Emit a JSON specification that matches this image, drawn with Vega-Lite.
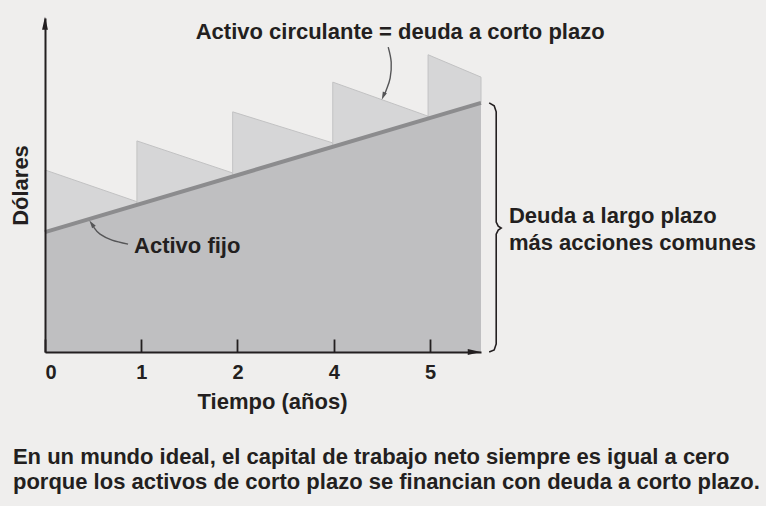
{
  "$schema": "https://vega.github.io/schema/vega-lite/v6.json",
  "width": 436,
  "height": 334,
  "autosize": {"type": "none"},
  "padding": {"left": 45, "top": 18, "right": 285, "bottom": 154},
  "background": "#efeeed",
  "config": {
    "view": {"stroke": null},
    "font": "Liberation Sans",
    "text": {"font": "Liberation Sans", "fontWeight": "bold", "fontSize": 22, "color": "#231f20"}
  },
  "datasets": {
    "teeth": [
      {"tooth": 1, "t": 0, "v": 54.5, "v2": 35.9},
      {"tooth": 1, "t": 0.955, "v": 45.0, "v2": 44.06},
      {"tooth": 2, "t": 0.955, "v": 63.2, "v2": 44.06},
      {"tooth": 2, "t": 1.95, "v": 53.6, "v2": 52.55},
      {"tooth": 3, "t": 1.95, "v": 71.9, "v2": 52.55},
      {"tooth": 3, "t": 2.99, "v": 62.6, "v2": 61.43},
      {"tooth": 4, "t": 2.99, "v": 80.8, "v2": 61.43},
      {"tooth": 4, "t": 3.98, "v": 70.6, "v2": 69.89},
      {"tooth": 5, "t": 3.98, "v": 89.0, "v2": 69.89},
      {"tooth": 5, "t": 4.53, "v": 82.3, "v2": 74.6}
    ],
    "fijo": [
      {"t": 0, "v": 35.9},
      {"t": 4.53, "v": 74.6}
    ],
    "curvas": [
      {"curva": "circulante", "i": 0, "t": 3.566, "v": 91.3},
      {"curva": "circulante", "i": 1, "t": 3.597, "v": 86.8},
      {"curva": "circulante", "i": 2, "t": 3.586, "v": 82.0},
      {"curva": "circulante", "i": 3, "t": 3.545, "v": 78.4},
      {"curva": "circulante", "i": 4, "t": 3.52, "v": 76.8},
      {"curva": "fijo", "i": 0, "t": 0.863, "v": 32.3},
      {"curva": "fijo", "i": 1, "t": 0.696, "v": 33.5},
      {"curva": "fijo", "i": 2, "t": 0.572, "v": 35.3},
      {"curva": "fijo", "i": 3, "t": 0.505, "v": 37.4}
    ],
    "llave": [
      {"i": 0, "t": 4.615, "v": 74.6},
      {"i": 1, "t": 4.667, "v": 73.7},
      {"i": 2, "t": 4.688, "v": 71.9},
      {"i": 3, "t": 4.688, "v": 38.9},
      {"i": 4, "t": 4.709, "v": 37.7},
      {"i": 5, "t": 4.74, "v": 37.1},
      {"i": 6, "t": 4.709, "v": 36.5},
      {"i": 7, "t": 4.688, "v": 35.3},
      {"i": 8, "t": 4.688, "v": 2.4},
      {"i": 9, "t": 4.667, "v": 0.6},
      {"i": 10, "t": 4.615, "v": 0}
    ],
    "textos": [
      {"texto": "Activo fijo", "t": 0.925, "v": 31.7},
      {"texto": "Deuda a largo plazo", "t": 4.82, "v": 40.7},
      {"texto": "más acciones comunes", "t": 4.82, "v": 32.6},
      {"texto": "En un mundo ideal, el capital de trabajo neto siempre es igual a cero", "t": -0.333, "v": -31.3},
      {"texto": "porque los activos de corto plazo se financian con deuda a corto plazo.", "t": -0.333, "v": -39.0}
    ]
  },
  "encoding": {
    "x": {
      "field": "t", "type": "quantitative",
      "scale": {"domain": [0, 4.53], "nice": false, "zero": false},
      "axis": {
        "title": "Tiempo (años)", "titleFontSize": 22, "titleFontWeight": "bold", "titleColor": "#231f20",
        "titleFont": "Liberation Sans", "titlePadding": 9, "titleX": 227,
        "values": [0, 1, 2, 3, 4],
        "labelExpr": "['0','1','2','4','5'][datum.value]",
        "labelFontSize": 20, "labelFontWeight": "bold", "labelColor": "#231f20", "labelFont": "Liberation Sans",
        "labelPadding": 23, "ticks": true, "tickSize": -13, "tickWidth": 1.8, "tickColor": "#231f20", "grid": false,
        "domainColor": "#231f20", "domainWidth": 2, "zindex": 1
      }
    },
    "y": {
      "field": "v", "type": "quantitative",
      "scale": {"domain": [0, 100], "nice": false, "zero": false},
      "axis": {
        "title": "Dólares", "titleFontSize": 22, "titleFontWeight": "bold", "titleColor": "#231f20",
        "titleFont": "Liberation Sans", "titlePadding": 13,
        "labels": false, "ticks": false, "grid": false,
        "domainColor": "#231f20", "domainWidth": 2, "zindex": 1
      }
    }
  },
  "layer": [
    {
      "data": {"name": "teeth"},
      "mark": {"type": "area", "color": "#d6d6d7", "stroke": "#c2c2c3", "strokeWidth": 1},
      "encoding": {"y2": {"field": "v2"}, "detail": {"field": "tooth", "type": "nominal"}}
    },
    {
      "data": {"name": "fijo"},
      "mark": {"type": "area", "color": "#bfbfc1"}
    },
    {
      "data": {"name": "fijo"},
      "mark": {"type": "line", "color": "#8c8c8e", "strokeWidth": 4}
    },
    {
      "data": {"values": [{"t": 0, "v": 98.4}]},
      "mark": {"type": "point", "shape": "M0,-1L0.45,1L-0.45,1Z", "size": 169, "filled": true, "color": "#231f20", "opacity": 1}
    },
    {
      "data": {"values": [{"t": 4.46, "v": 0}]},
      "mark": {"type": "point", "shape": "M1,0L-1,0.45L-1,-0.45Z", "size": 169, "filled": true, "color": "#231f20", "opacity": 1}
    },
    {
      "data": {"name": "curvas"},
      "mark": {"type": "line", "color": "#555557", "strokeWidth": 1.4, "interpolate": "cardinal"},
      "encoding": {"detail": {"field": "curva", "type": "nominal"}, "order": {"field": "i", "type": "quantitative"}}
    },
    {
      "data": {"values": [{"t": 3.515, "v": 76.6}]},
      "mark": {"type": "point", "shape": "M0,1L0.55,-1L-0.55,-1Z", "size": 64, "filled": true, "color": "#555557", "opacity": 1, "angle": 23}
    },
    {
      "data": {"values": [{"t": 0.485, "v": 38.4}]},
      "mark": {"type": "point", "shape": "M0,-1L0.55,1L-0.55,1Z", "size": 64, "filled": true, "color": "#555557", "opacity": 1, "angle": -35}
    },
    {
      "data": {"name": "llave"},
      "mark": {"type": "line", "color": "#231f20", "strokeWidth": 1.6},
      "encoding": {"order": {"field": "i", "type": "quantitative"}}
    },
    {
      "data": {"values": [{"texto": "Activo circulante = deuda a corto plazo", "t": 3.69, "v": 95.8}]},
      "mark": {"type": "text", "align": "center", "baseline": "middle"},
      "encoding": {"text": {"field": "texto"}}
    },
    {
      "data": {"name": "textos"},
      "mark": {"type": "text", "align": "left", "baseline": "middle"},
      "encoding": {"text": {"field": "texto"}}
    }
  ]
}
